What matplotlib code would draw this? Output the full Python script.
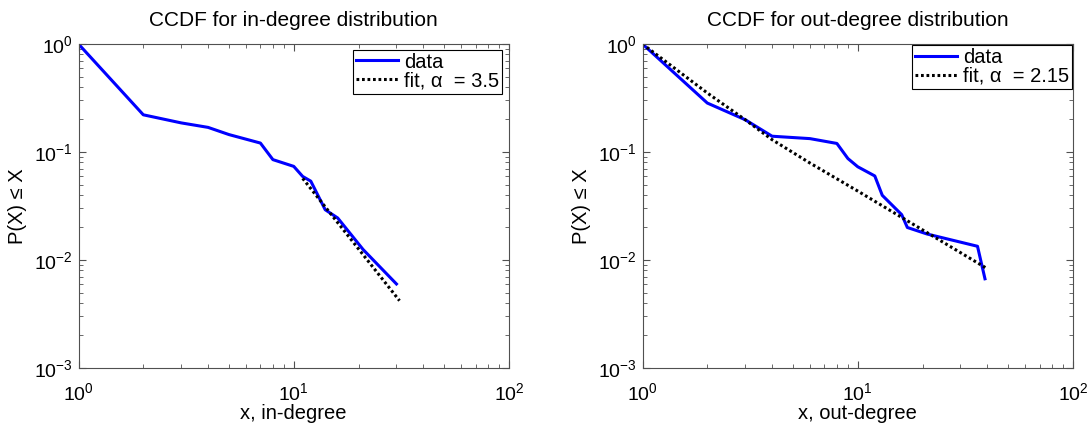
import matplotlib
matplotlib.use("Agg")
import matplotlib.pyplot as plt
from matplotlib.ticker import LogLocator, NullFormatter

plt.rcParams["font.family"] = ["Liberation Sans", "DejaVu Sans"]
plt.rcParams["mathtext.fontset"] = "custom"
plt.rcParams["mathtext.rm"] = "Liberation Sans"
plt.rcParams["mathtext.it"] = "Liberation Sans:italic"

# in-degree CCDF
in_x = [1, 2, 3, 4, 5, 7, 8, 10, 11, 12, 14, 16, 21, 30]
in_y = [1.0, 0.221, 0.186, 0.169, 0.145, 0.121, 0.085, 0.0736, 0.0594, 0.0537, 0.0292, 0.0245, 0.0125, 0.0060]
in_fit_x = [11, 31]
in_fit_y = [0.057, 0.0042]
in_alpha = "3.5"

# out-degree CCDF
out_x = [1, 2, 3, 4, 6, 8, 9, 10, 12, 13, 16, 17, 21, 36, 39]
out_y = [1.0, 0.284, 0.199, 0.140, 0.133, 0.120, 0.087, 0.073, 0.060, 0.0397, 0.0263, 0.0200, 0.0174, 0.0134, 0.0067]
out_fit_x = [1, 2, 3, 4, 6, 10, 20, 40]
out_fit_y = [1.0, 0.352, 0.199, 0.130, 0.079, 0.0435, 0.019, 0.0083]
out_alpha = "2.15"

panels = [
    ("in-degree", in_x, in_y, in_fit_x, in_fit_y, in_alpha, (0.984, 0.983)),
    ("out-degree", out_x, out_y, out_fit_x, out_fit_y, out_alpha, (0.998, 0.998)),
]

fig = plt.figure(figsize=(10.9, 4.24), dpi=100)
lefts = [78.5 / 1090, 642.5 / 1090]
spine_col = "#505050"

for left, (name, x, y, fx, fy, alpha, anchor) in zip(lefts, panels):
    ax = fig.add_axes([left, 56 / 424, 430.5 / 1090, 324 / 424])
    ax.plot(x, y, color="#0000ff", lw=2.2, label="data")
    ax.plot(fx, fy, color="black", lw=2.2, ls=(0, (0.9, 0.9)), label=f"fit, α  = {alpha}")
    ax.set_xscale("log")
    ax.set_yscale("log")
    ax.set_xlim(1, 100)
    ax.set_ylim(1e-3, 1)
    ax.xaxis.set_major_locator(LogLocator(base=10, numticks=10))
    ax.yaxis.set_major_locator(LogLocator(base=10, numticks=10))
    ax.xaxis.set_minor_locator(LogLocator(base=10, subs=range(2, 10), numticks=20))
    ax.yaxis.set_minor_locator(LogLocator(base=10, subs=range(2, 10), numticks=20))
    ax.xaxis.set_minor_formatter(NullFormatter())
    ax.yaxis.set_minor_formatter(NullFormatter())
    ax.tick_params(which="both", direction="in", top=True, right=True,
                   color=spine_col, labelsize=14, labelcolor="black")
    ax.tick_params(which="major", length=5, width=0.8)
    ax.tick_params(which="minor", length=3, width=0.6)
    ax.tick_params(axis="x", which="major", pad=10)
    ax.tick_params(axis="y", which="major", pad=4)
    for s in ax.spines.values():
        s.set_color(spine_col)
        s.set_linewidth(0.8)
    ax.set_title(f"CCDF for {name} distribution", fontsize=15, pad=13)
    ax.set_xlabel(f"x, {name}", fontsize=14.5, labelpad=0)
    ax.set_ylabel("P(X) ≤ X", fontsize=14.5, labelpad=5)
    leg = ax.legend(loc="upper right", bbox_to_anchor=anchor, fontsize=14.5,
                    fancybox=False, framealpha=1, edgecolor="black",
                    handlelength=2.1, handletextpad=0.3, borderpad=0.15,
                    labelspacing=0.0, borderaxespad=0)
    leg.get_frame().set_linewidth(0.8)

fig.savefig("out.png", dpi=100)
